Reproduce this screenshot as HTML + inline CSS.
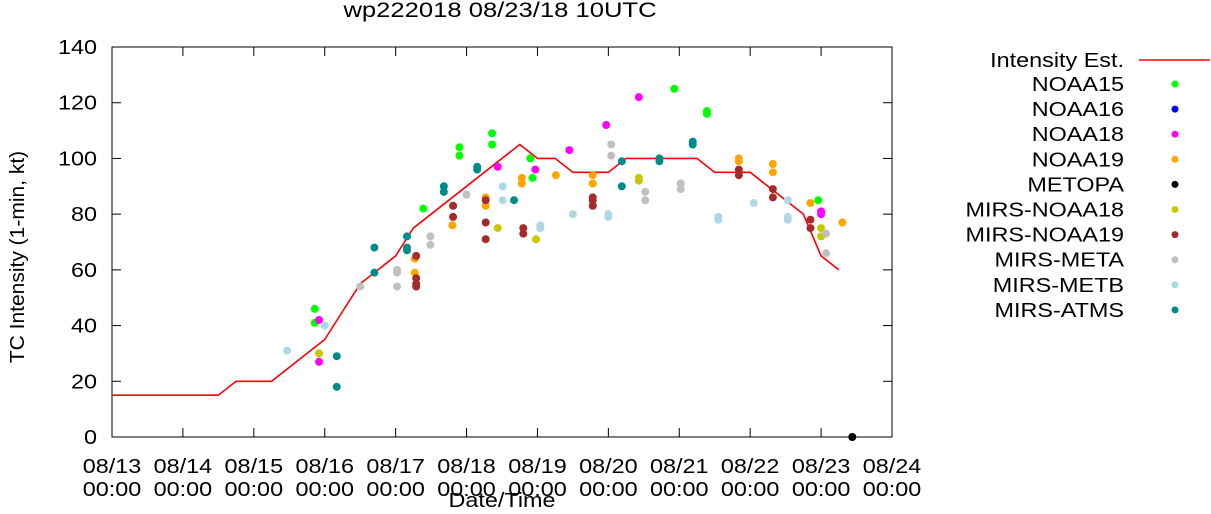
<!DOCTYPE html>
<html><head><meta charset="utf-8"><style>
body{margin:0;background:#fff}
svg text{font-family:"Liberation Sans",sans-serif;fill:#000}
</style></head><body>
<svg id="c" width="1211" height="509" xmlns="http://www.w3.org/2000/svg"></svg>
<script>
const lineDays=[0,1.5,1.75,2.25,3.0,3.5,4.0,4.25,5.75,6.0,6.25,6.5,7.0,7.25,8.25,8.5,9.0,9.25,9.75,10.0,10.25];
const lineKt=[15,15,20,20,35,55,65,75,105,100,100,95,95,100,100,95,95,90,80,65,60];
const seriesNames=["NOAA15","NOAA16","NOAA18","NOAA19","METOPA","MIRS-NOAA18","MIRS-NOAA19","MIRS-META","MIRS-METB","MIRS-ATMS"];
const seriesColors=["#00ff00","#0000ff","#ff00ff","#ffa500","#000000","#c8c800","#a52a2a","#c0c0c0","#add8e6","#008b8b"];
const s0Days=[2.86,2.86,4.39,4.9,4.9,5.36,5.36,5.9,5.93,7.93,8.39,8.39,9.96];
const s0Kt=[46,41,82,104,101,109,105,100,93,125,117,116,85];
const s1Days=[];const s1Kt=[];
const s2Days=[2.92,2.92,5.44,5.97,6.45,6.97,7.43,10.0,10.0];
const s2Kt=[42,27,97,96,103,112,122,80,81];
const s3Days=[4.27,4.27,4.8,5.27,5.27,5.78,5.78,6.26,6.78,6.78,8.84,8.84,9.32,9.32,9.85,10.3];
const s3Kt=[64,59,76,86,83,93,91,94,94,91,100,99,98,95,84,77];
const s4Days=[10.44];const s4Kt=[0];
const s5Days=[2.92,5.44,5.98,7.43,7.43,10.0,10.0];
const s5Kt=[30,75,71,92,93,75,72];
const s6Days=[4.29,4.29,4.29,4.29,4.81,4.81,5.27,5.27,5.27,5.8,5.8,6.78,6.78,6.78,8.84,8.84,9.32,9.32,9.85,9.85];
const s6Kt=[65,55,54,57,83,79,85,77,71,75,73,86,83,85,96,94,89,86,78,75];
const s7Days=[3.5,4.02,4.02,4.02,4.49,4.49,5.0,7.04,7.04,7.52,7.52,8.02,8.02,10.07,10.07];
const s7Kt=[54,60,59,54,72,69,87,105,101,88,85,91,89,73,66];
const s8Days=[2.47,3.0,3.0,5.51,5.51,6.04,6.04,6.5,7.0,7.0,8.55,8.55,9.05,9.53,9.53,9.53];
const s8Kt=[31,40,40,90,85,76,75,80,80,79,79,78,84,79,78,85];
const s9Days=[3.17,3.17,3.7,3.7,4.16,4.16,4.16,4.68,4.68,5.15,5.15,5.67,7.19,7.19,7.72,7.72,8.19,8.19];
const s9Kt=[29,18,68,59,72,68,67,90,88,97,96,85,99,90,100,99,106,105];
const allDays=[s0Days,s1Days,s2Days,s3Days,s4Days,s5Days,s6Days,s7Days,s8Days,s9Days];
const allKt=[s0Kt,s1Kt,s2Kt,s3Kt,s4Kt,s5Kt,s6Kt,s7Kt,s8Kt,s9Kt];
const yTicks=[0,20,40,60,80,100,120,140];
const xTickLabels=["08/13","08/14","08/15","08/16","08/17","08/18","08/19","08/20","08/21","08/22","08/23","08/24"];

const X0=112,X1=892,Y0=437,Y1=47;
const xs=d=>X0+d*(X1-X0)/11;
const ys=v=>Y0-v*(Y0-Y1)/140;
const svg=document.getElementById('c');
const NS="http://www.w3.org/2000/svg";
function mk(t,a,txt){const e=document.createElementNS(NS,t);for(const k in a)e.setAttribute(k,a[k]);if(txt!==undefined)e.textContent=txt;svg.appendChild(e);return e;}
function tx(x,y,anchor,str,size,rot,sx){
 const tr='translate('+x+','+y+')'+(rot?' rotate(-90)':'')+' scale('+(sx||1.17)+',1)';
 return mk('text',{x:0,y:0,'text-anchor':anchor,'font-size':size||20,transform:tr},str);
}

let e=tx(500,17,'middle','wp222018 08/23/18 10UTC',21,false,1.22);


e=mk('rect',{x:X0,y:Y1,width:X1-X0,height:Y0-Y1,fill:'none',stroke:'#000','stroke-width':1});


yTicks.forEach(v=>{
 const y=ys(v);
 mk('line',{x1:X0,x2:X0+9,y1:y,y2:y,stroke:'#000'});
 mk('line',{x1:X1,x2:X1-9,y1:y,y2:y,stroke:'#000'});
 const t=tx(97,y+7,'end',String(v));
 
 
});
xTickLabels.forEach((l,i)=>{
 const x=xs(i);
 mk('line',{x1:x,x2:x,y1:Y0,y2:Y0-9,stroke:'#000'});
 mk('line',{x1:x,x2:x,y1:Y1,y2:Y1+9,stroke:'#000'});
 const t=tx(x,473,'middle',l);
 
 
 const t2=tx(x,496,'middle','00:00');
 
 
});
e=tx(502,507,'middle','Date/Time');


e=tx(24,257,'middle','TC Intensity (1-min, kt)',20,true,1.05);



let pts=lineDays.map((d,i)=>xs(d)+','+ys(lineKt[i])).join(' ');
e=mk('polyline',{points:pts,fill:'none',stroke:'#ff0000','stroke-width':1.6});



allDays.forEach((ds,si)=>{
 ds.forEach((d,i)=>{
  const c=mk('circle',{cx:xs(d),cy:ys(allKt[si][i]),r:4,fill:seriesColors[si]});
  
  
 });
});

e=tx(1124,67,'end','Intensity Est.');


e=mk('line',{x1:1139,x2:1210,y1:60,y2:60,stroke:'#ff0000','stroke-width':1.6});


seriesNames.forEach((n,i)=>{
 const y=84+i*25.1;
 const t=tx(1124,y+7,'end',n);
 
 
 const c=mk('circle',{cx:1175,cy:y,r:3.5,fill:seriesColors[i]});
 
 
});
</script>
</body></html>
